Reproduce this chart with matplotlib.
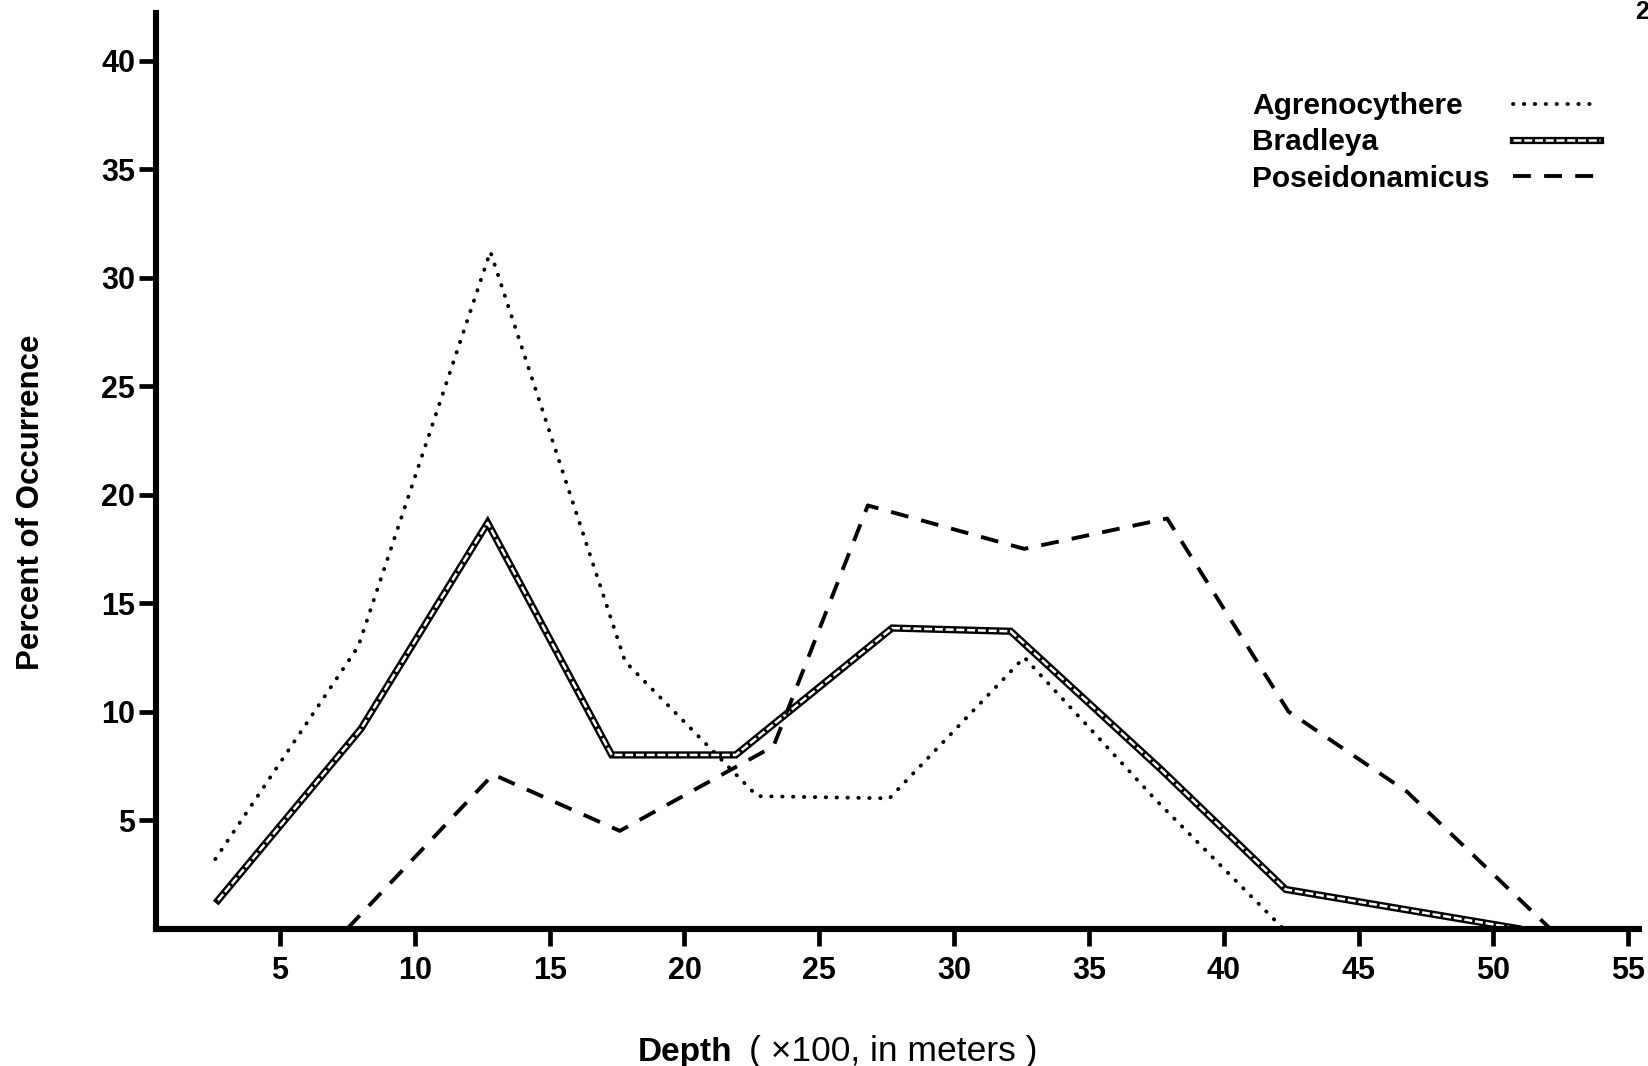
import matplotlib
matplotlib.use('Agg')
import matplotlib.pyplot as plt
from matplotlib import font_manager
from matplotlib.legend_handler import HandlerTuple
import numpy as np

# values (depth in hundreds of meters)
AgrDepth = [2.6, 7.9, 12.8, 17.8, 22.7, 27.6, 32.6, 37.5, 42.2]
AgrPct = [3.2, 13.0, 31.2, 12.3, 6.1, 6.0, 12.5, 5.9, 0.0]

BradDepth = [2.7, 8.0, 12.7, 17.3, 21.9, 27.7, 32.1, 37.7, 42.3, 50.9]
BradPct = [1.3, 9.2, 18.7, 8.0, 8.0, 13.85, 13.7, 7.3, 1.8, 0.0]

PoseDepth = [7.5, 12.9, 17.6, 23.3, 26.8, 32.6, 37.9, 42.4, 46.8, 52.1]
PosePct = [0.0, 7.1, 4.5, 8.4, 19.5, 17.5, 18.9, 10.0, 6.3, 0.0]

SeriesNames = ['Agrenocythere', 'Bradleya', 'Poseidonamicus']
XTicks = [5, 10, 15, 20, 25, 30, 35, 40, 45, 50, 55]
YTicks = [5, 10, 15, 20, 25, 30, 35, 40]

# condensed bold face for the tick numbers if we have one
available = set(f.name for f in font_manager.fontManager.ttflist)
NarrowFont = 'Liberation Sans Narrow' if 'Liberation Sans Narrow' in available else 'Liberation Sans'
MainFont = 'Liberation Sans' if 'Liberation Sans' in available else 'DejaVu Sans'

fig = plt.figure(figsize=(16.49, 10.66), dpi=100)
ax = fig.add_axes([156/1649, 137.5/1066, 1483/1649, 915.5/1066])

# dotted line
agrLine, = ax.plot(AgrDepth, AgrPct, color='black', lw=2.8,
                   linestyle=(0, (0.1, 2.7)), dash_capstyle='round')

# double line: black outline with white dashed core
bradOuter, = ax.plot(BradDepth, BradPct, color='black', lw=5.2, solid_joinstyle='miter')
bradInner, = ax.plot(BradDepth, BradPct, color='white', lw=1.8,
                     linestyle=(0, (3.2, 1.1)))

# dashed line
poseLine, = ax.plot(PoseDepth, PosePct, color='black', lw=2.8,
                    linestyle=(0, (4.6, 3.4)))

ax.set_xlim(0.4, 55.4)
ax.set_ylim(0, 42.2)

ax.spines['top'].set_visible(False)
ax.spines['right'].set_visible(False)
ax.spines['left'].set_linewidth(4.4)
ax.spines['bottom'].set_linewidth(4.4)

ax.set_xticks(XTicks)
ax.set_yticks(YTicks)
ax.set_xticklabels([str(t) for t in XTicks])
ax.set_yticklabels([str(t) for t in YTicks])
ax.tick_params(axis='x', direction='out', length=12, width=3.4, pad=8)
ax.tick_params(axis='y', direction='out', length=12, width=3.4, pad=3)
for lab in ax.get_xticklabels() + ax.get_yticklabels():
    lab.set_fontfamily(NarrowFont)
    lab.set_fontweight('bold')
    lab.set_fontsize(22)

ax.set_ylabel('Percent of Occurrence', fontsize=22.5, fontweight='bold', family=MainFont)
ax.yaxis.set_label_coords(-0.074, 0.466)

# x label is two pieces: bold word then the plain unit
t1 = fig.text(638/1649, 1 - 1052/1066, 'Depth', fontsize=24, fontweight='bold',
              family=MainFont, ha='left', va='center')
ax.annotate('( \u00d7100, in meters )', xy=(1, 0.5), xycoords=t1, xytext=(12, 0),
            textcoords='offset points', fontsize=25.5, family=MainFont,
            ha='left', va='center')

# legend: names in one left-aligned column, line samples in another
legProps = {'family': MainFont, 'weight': 'bold', 'size': 21.5}
legTop = 1 - 92/1066
legNames = ax.legend([agrLine, bradOuter, poseLine], SeriesNames,
                     loc='upper left', bbox_to_anchor=(1252/1649, legTop),
                     bbox_transform=fig.transFigure, frameon=False,
                     handlelength=0, handletextpad=0, labelspacing=0.28,
                     borderpad=0, borderaxespad=0, prop=legProps)
for h in legNames.legend_handles:
    h.set_visible(False)
ax.add_artist(legNames)

legLines = ax.legend([agrLine, (bradOuter, bradInner), poseLine], [' ', ' ', ' '],
                     handler_map={tuple: HandlerTuple(ndivide=1)},
                     loc='upper right', bbox_to_anchor=(1608/1649, legTop),
                     bbox_transform=fig.transFigure, frameon=False,
                     handlelength=2.9, handletextpad=0, labelspacing=0.28,
                     borderpad=0, borderaxespad=0, prop=legProps)

# page number at the corner of the scan
fig.text(1.0, 1.0, '2', fontsize=18, fontweight='bold',
         family=MainFont, ha='right', va='top')

fig.savefig('out.png', dpi=100, facecolor='white')
